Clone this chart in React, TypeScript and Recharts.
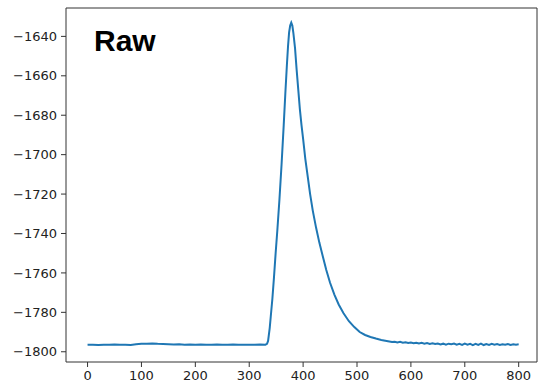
import { LineChart, Line, XAxis, YAxis } from "recharts";

// time axis (samples) and raw signal
const baselineTime = [
  0, 10, 20, 30, 40, 50, 60, 70, 80, 90, 100, 110, 120, 130, 140, 150, 160,
  170, 180, 190, 200, 210, 220, 230, 240, 250, 260, 270, 280, 290, 300, 310,
  320, 330,
];
const baselineRaw = [
  -1796.5, -1796.4, -1796.6, -1796.4, -1796.5, -1796.3, -1796.5, -1796.4,
  -1796.6, -1796.2, -1796.0, -1795.9, -1795.8, -1796.0, -1796.1, -1796.2,
  -1796.3, -1796.2, -1796.4, -1796.3, -1796.4, -1796.3, -1796.5, -1796.4,
  -1796.3, -1796.5, -1796.4, -1796.3, -1796.5, -1796.4, -1796.5, -1796.4,
  -1796.3, -1796.4,
];

const peakTime = [
  333, 335, 338, 340, 343, 346, 349, 352, 356, 360, 364, 367, 370, 372, 374,
  376, 378, 380, 382, 385, 388, 391, 394, 397, 400, 404, 408, 413, 418, 424,
  430, 436, 443, 450, 458, 466, 475, 485, 495, 505, 515, 525, 535, 545, 555,
];
const peakRaw = [
  -1796.0, -1794.5, -1788, -1782, -1773, -1762, -1750, -1739, -1723, -1705,
  -1685, -1669, -1654, -1645, -1638, -1634.5, -1633, -1634.5, -1638.5, -1646,
  -1657, -1667, -1677, -1685, -1692, -1702, -1710, -1720, -1728.5, -1737,
  -1744.5, -1751, -1758.5, -1765, -1771, -1776, -1780.5, -1784.5, -1787.5,
  -1790, -1791.5, -1792.5, -1793.3, -1794, -1794.5,
];

const tailTime = [
  560, 565, 570, 575, 580, 585, 590, 595, 600, 605, 610, 615, 620, 625, 630,
  635, 640, 645, 650, 655, 660, 665, 670, 675, 680, 685, 690, 695, 700, 705,
  710, 715, 720, 725, 730, 735, 740, 745, 750, 755, 760, 765, 770, 775, 780,
  785, 790, 795, 800,
];
const tailRaw = [
  -1794.8, -1795.1, -1794.9, -1795.3, -1795.0, -1795.4, -1795.2, -1795.6,
  -1795.3, -1795.7, -1795.4, -1795.8, -1795.5, -1795.9, -1795.6, -1796.0,
  -1795.7, -1796.1, -1795.8, -1796.3, -1795.9, -1796.4, -1795.9, -1796.2,
  -1795.8, -1796.4, -1796.0, -1796.5, -1795.9, -1796.4, -1796.0, -1796.6,
  -1796.0, -1796.5, -1795.9, -1796.6, -1796.1, -1796.5, -1796.0, -1796.4,
  -1796.1, -1796.5, -1796.2, -1796.4, -1796.1, -1796.5, -1796.2, -1796.4,
  -1796.2,
];

const xTicks = [0, 100, 200, 300, 400, 500, 600, 700, 800];
const yTicks = [-1800, -1780, -1760, -1740, -1720, -1700, -1680, -1660, -1640];

const data = [
  ...baselineTime.map((t, i) => ({ t, raw: baselineRaw[i] })),
  ...peakTime.map((t, i) => ({ t, raw: peakRaw[i] })),
  ...tailTime.map((t, i) => ({ t, raw: tailRaw[i] })),
];

const X_DOMAIN: [number, number] = [-40, 834];
const Y_DOMAIN: [number, number] = [-1805.2, -1625.6];
const FRAME = "#333";
const tickStyle = { fill: "#222", fontSize: 13, fontFamily: "DejaVu Sans" };

const fmt = (v: number) => String(v).replace("-", "\u2212");

export default function App() {
  return (
    <div style={{ position: "fixed", left: 0, top: 0, width: 539, height: 384, background: "#fff" }}>
      <LineChart width={539} height={384} data={data} margin={{ top: 7, right: 1, bottom: 0, left: 0 }}>
        <XAxis
          dataKey="t"
          type="number"
          domain={X_DOMAIN}
          ticks={xTicks}
          allowDataOverflow
          height={22}
          tick={tickStyle}
          tickSize={5}
          tickMargin={4}
          axisLine={{ stroke: FRAME }}
          tickLine={{ stroke: FRAME }}
        />
        <XAxis
          xAxisId="top"
          orientation="top"
          dataKey="t"
          type="number"
          domain={X_DOMAIN}
          allowDataOverflow
          height={1}
          tick={false}
          tickLine={false}
          axisLine={{ stroke: FRAME }}
        />
        <YAxis
          type="number"
          domain={Y_DOMAIN}
          ticks={yTicks}
          allowDataOverflow
          width={66}
          tick={tickStyle}
          tickFormatter={fmt}
          tickSize={5}
          tickMargin={4}
          axisLine={{ stroke: FRAME }}
          tickLine={{ stroke: FRAME }}
        />
        <YAxis
          yAxisId="right"
          orientation="right"
          type="number"
          domain={Y_DOMAIN}
          allowDataOverflow
          width={1}
          tick={false}
          tickLine={false}
          axisLine={{ stroke: FRAME }}
        />
        <Line
          type="linear"
          dataKey="raw"
          stroke="#1f77b4"
          strokeWidth={2}
          dot={false}
          isAnimationActive={false}
        />
      </LineChart>
      <div
        style={{
          position: "absolute",
          left: 94,
          top: 24,
          fontFamily: "Liberation Sans, Arial, sans-serif",
          fontWeight: "bold",
          fontSize: 30,
          lineHeight: "34px",
          color: "#000",
        }}
      >
        Raw
      </div>
    </div>
  );
}
